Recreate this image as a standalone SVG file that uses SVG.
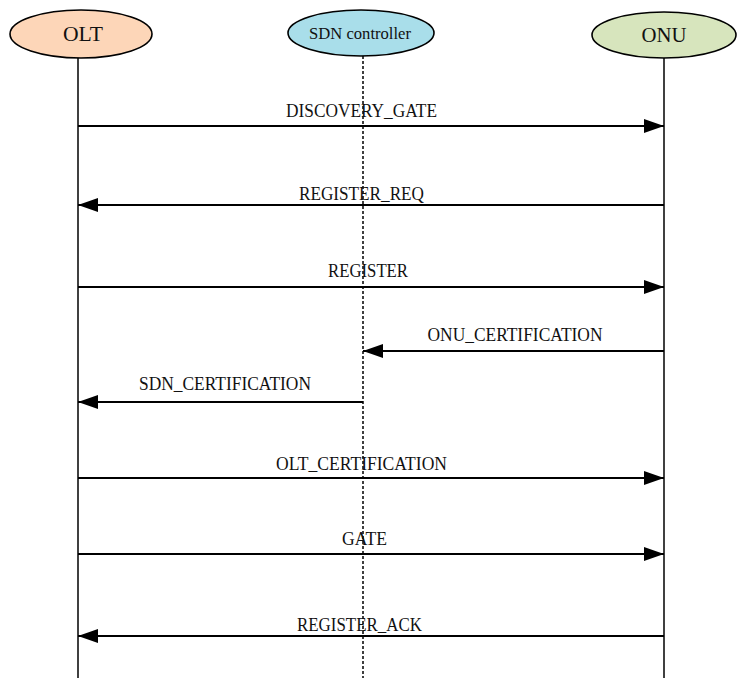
<svg xmlns="http://www.w3.org/2000/svg" width="742" height="690" viewBox="0 0 742 690">
<defs>
<style>
.node ellipse{stroke:#000;stroke-width:1.6}
.lbl{font-family:"Liberation Serif","Times New Roman",serif;fill:#111;text-anchor:middle}
.life{stroke:#000;stroke-width:1.5;fill:none}
.msg{stroke:#000;stroke-width:1.8;fill:none;marker-end:url(#ah)}
</style>
<marker id="ah" markerUnits="userSpaceOnUse" markerWidth="22" markerHeight="16" refX="20" refY="7" orient="auto">
<polygon points="0,0 20,7 0,14" fill="#000"/>
</marker>
</defs>
<rect width="742" height="690" fill="#fff"/>
<g id="OLT" class="node">
<ellipse cx="81" cy="34" rx="71" ry="24" fill="#FDD6B8"/>
<text class="lbl" x="83" y="41" font-size="20" textLength="40" lengthAdjust="spacingAndGlyphs">OLT</text>
<line class="life" x1="78" y1="58" x2="78" y2="678"/>
</g>
<g id="SDN" class="node">
<ellipse cx="361" cy="33" rx="73" ry="23" fill="#A9DEEA"/>
<text class="lbl" x="360" y="39" font-size="17" textLength="102" lengthAdjust="spacingAndGlyphs">SDN controller</text>
<line class="life" x1="363" y1="56" x2="363" y2="678" stroke-dasharray="3,2"/>
</g>
<g id="ONU" class="node">
<ellipse cx="664" cy="35" rx="72" ry="23" fill="#D7E5BD"/>
<text class="lbl" x="664" y="42" font-size="20" textLength="45" lengthAdjust="spacingAndGlyphs">ONU</text>
<line class="life" x1="664" y1="58" x2="664" y2="678"/>
</g>
<g id="connectors">
<line class="msg" x1="78" y1="126" x2="664" y2="126"/>
<line class="msg" x1="664" y1="205" x2="78" y2="205"/>
<line class="msg" x1="78" y1="287" x2="664" y2="287"/>
<line class="msg" x1="664" y1="351" x2="363" y2="351"/>
<line class="msg" x1="363" y1="402" x2="78" y2="402"/>
<line class="msg" x1="78" y1="478" x2="664" y2="478"/>
<line class="msg" x1="78" y1="554" x2="664" y2="554"/>
<line class="msg" x1="664" y1="636" x2="78" y2="636"/>
</g>
<g id="labels">
<text class="lbl" x="361.5" y="117" font-size="18.5" textLength="151" lengthAdjust="spacingAndGlyphs">DISCOVERY_GATE</text>
<text class="lbl" x="361.5" y="200" font-size="18.5" textLength="125" lengthAdjust="spacingAndGlyphs">REGISTER_REQ</text>
<text class="lbl" x="368" y="277" font-size="18.5" textLength="80" lengthAdjust="spacingAndGlyphs">REGISTER</text>
<text class="lbl" x="515" y="341" font-size="18.5" textLength="175" lengthAdjust="spacingAndGlyphs">ONU_CERTIFICATION</text>
<text class="lbl" x="225" y="390" font-size="18.5" textLength="172" lengthAdjust="spacingAndGlyphs">SDN_CERTIFICATION</text>
<text class="lbl" x="361.5" y="470" font-size="18.5" textLength="171" lengthAdjust="spacingAndGlyphs">OLT_CERTIFICATION</text>
<text class="lbl" x="364.5" y="545" font-size="18.5" textLength="45" lengthAdjust="spacingAndGlyphs">GATE</text>
<text class="lbl" x="359.5" y="631" font-size="18.5" textLength="125" lengthAdjust="spacingAndGlyphs">REGISTER_ACK</text>
</g>
</svg>
